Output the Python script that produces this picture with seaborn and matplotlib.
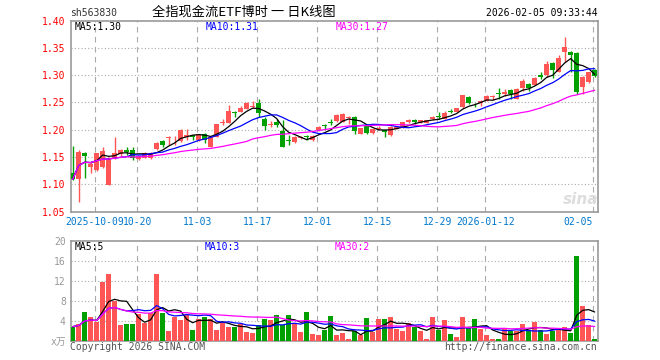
import numpy as np
import pandas as pd
import seaborn as sns
import matplotlib
matplotlib.use('Agg')
import matplotlib.pyplot as plt

# daily k-line data (2025-09-25 .. 2026-02-05)
opens = [1.120, 1.109, 1.158, 1.131, 1.127, 1.132, 1.099, 1.148, 1.155, 1.162,
         1.162, 1.146, 1.149, 1.149, 1.164, 1.179, 1.184, 1.186, 1.179, 1.187,
         1.190, 1.181, 1.193, 1.169, 1.187, 1.212, 1.213, 1.233, 1.233, 1.238,
         1.242, 1.249, 1.219, 1.209, 1.214, 1.198, 1.182, 1.177, 1.184, 1.188,
         1.182, 1.199, 1.209, 1.214, 1.216, 1.215, 1.222, 1.223, 1.193, 1.209,
         1.194, 1.201, 1.199, 1.190, 1.202, 1.204, 1.215, 1.217, 1.214, 1.213,
         1.220, 1.226, 1.220, 1.235, 1.233, 1.241, 1.259, 1.246, 1.248, 1.253,
         1.259, 1.267, 1.265, 1.273, 1.257, 1.277, 1.284, 1.282, 1.301, 1.300,
         1.323, 1.306, 1.343, 1.343, 1.341, 1.279, 1.287, 1.310]
closes = [1.109, 1.160, 1.152, 1.138, 1.157, 1.161, 1.148, 1.158, 1.162, 1.160,
          1.148, 1.151, 1.158, 1.158, 1.175, 1.172, 1.187, 1.187, 1.199, 1.190,
          1.187, 1.192, 1.182, 1.187, 1.210, 1.215, 1.234, 1.230, 1.240, 1.249,
          1.244, 1.231, 1.207, 1.211, 1.209, 1.169, 1.180, 1.187, 1.187, 1.186,
          1.188, 1.205, 1.207, 1.212, 1.227, 1.228, 1.224, 1.198, 1.203, 1.194,
          1.201, 1.203, 1.196, 1.205, 1.205, 1.214, 1.217, 1.215, 1.217, 1.217,
          1.223, 1.223, 1.230, 1.233, 1.239, 1.263, 1.249, 1.245, 1.253, 1.262,
          1.261, 1.265, 1.269, 1.265, 1.274, 1.289, 1.277, 1.295, 1.297, 1.321,
          1.309, 1.332, 1.352, 1.337, 1.269, 1.297, 1.305, 1.298]
highs = [1.170, 1.162, 1.159, 1.141, 1.158, 1.169, 1.150, 1.187, 1.164, 1.168,
         1.169, 1.152, 1.160, 1.160, 1.177, 1.182, 1.188, 1.188, 1.202, 1.201,
         1.191, 1.193, 1.194, 1.188, 1.211, 1.219, 1.245, 1.234, 1.243, 1.250,
         1.252, 1.257, 1.224, 1.216, 1.219, 1.218, 1.191, 1.188, 1.188, 1.191,
         1.190, 1.206, 1.210, 1.219, 1.228, 1.230, 1.225, 1.225, 1.204, 1.210,
         1.202, 1.207, 1.200, 1.206, 1.206, 1.215, 1.219, 1.219, 1.218, 1.218,
         1.226, 1.232, 1.234, 1.238, 1.240, 1.264, 1.262, 1.249, 1.254, 1.263,
         1.263, 1.277, 1.274, 1.275, 1.276, 1.292, 1.286, 1.297, 1.305, 1.326,
         1.324, 1.337, 1.369, 1.344, 1.342, 1.299, 1.306, 1.312]
lows = [1.107, 1.068, 1.111, 1.120, 1.125, 1.130, 1.098, 1.146, 1.152, 1.154,
        1.144, 1.144, 1.148, 1.147, 1.163, 1.169, 1.172, 1.172, 1.178, 1.181,
        1.182, 1.180, 1.175, 1.168, 1.186, 1.209, 1.212, 1.223, 1.232, 1.237,
        1.239, 1.223, 1.199, 1.205, 1.205, 1.168, 1.172, 1.176, 1.183, 1.182,
        1.180, 1.198, 1.201, 1.208, 1.215, 1.214, 1.211, 1.192, 1.192, 1.192,
        1.193, 1.200, 1.186, 1.189, 1.201, 1.203, 1.212, 1.211, 1.213, 1.212,
        1.218, 1.219, 1.219, 1.231, 1.232, 1.240, 1.247, 1.241, 1.244, 1.252,
        1.254, 1.257, 1.262, 1.256, 1.256, 1.271, 1.270, 1.281, 1.292, 1.297,
        1.294, 1.305, 1.324, 1.305, 1.265, 1.265, 1.285, 1.296]
volumes = [2.8, 3.3, 5.7, 4.7, 3.7, 11.8, 13.3, 7.9, 3.1, 3.3,
           3.3, 5.3, 3.5, 5.5, 13.3, 5.5, 1.9, 4.8, 4.1, 5.1,
           2.1, 4.3, 4.7, 4.3, 2.1, 3.5, 2.7, 2.7, 3.3, 1.7,
           1.5, 3.1, 4.3, 4.1, 5.1, 3.1, 5.1, 3.5, 1.7, 5.7,
           1.3, 1.2, 2.1, 4.9, 1.1, 1.5, 0.4, 1.9, 1.1, 4.5,
           1.8, 4.3, 4.3, 4.7, 2.3, 1.9, 3.5, 2.7, 1.9, 0.4,
           4.7, 2.1, 4.1, 1.3, 0.7, 4.7, 2.6, 4.3, 2.3, 1.1,
           0.4, 0.3, 2.4, 1.9, 1.9, 3.3, 2.2, 3.7, 2.1, 1.4,
           1.9, 2.4, 2.7, 1.5, 16.9, 6.9, 3.1, 0.3]

tick_idx = [4, 11, 21, 31, 41, 51, 61, 69, 87]
tick_labels = ['2025-10-09', '10-20', '11-03', '11-17', '12-01', '12-15',
               '12-29', '2026-01-12', '02-05']
price_ticks = [1.05, 1.10, 1.15, 1.20, 1.25, 1.30, 1.35, 1.40]
vol_ticks = [0, 4, 8, 12, 16, 20]
vol_tick_labels = ['x万', '4', '8', '12', '16', '20']

code = 'sh563830'
title = '全指现金流ETF博时 一 日K线图'
stamp = '2026-02-05 09:33:44'
ma_labels = ['MA5:1.30', 'MA10:1.31', 'MA30:1.27']
vol_ma_labels = ['MA5:5', 'MA10:3', 'MA30:2']

RED = '#ff5555'
GREEN = '#00a000'
MA_COLORS = ['black', '#0000ff', '#ff00ff']
GRID = '#aaaaaa'
MONO = ['DejaVu Sans Mono', 'Noto Sans CJK SC']

df = pd.DataFrame({'idx': np.arange(len(closes)), 'open': opens, 'close': closes,
                   'high': highs, 'low': lows, 'vol': volumes})
df['dir'] = np.where(df['close'] >= df['open'], 'up', 'down')
df['col'] = np.where(df['dir'] == 'up', RED, GREEN)
for n in (5, 10, 30):
    df[f'ma{n}'] = df['close'].rolling(n, min_periods=1).mean()
    df[f'vma{n}'] = df['vol'].rolling(n, min_periods=1).mean()

sns.set_theme(style='white')
plt.rcParams['font.family'] = MONO

W, H = 660, 360
fig = plt.figure(figsize=(6.6, 3.6), dpi=100)
left, right = 70.7, 598
ax = fig.add_axes([left / W, 1 - 211.6 / H, (right - left) / W, (211.6 - 20.5) / H])
axv = fig.add_axes([left / W, 1 - 340.7 / H, (right - left) / W, 100 / H])

# candles
ax.vlines(df['idx'], df['low'], df['high'], colors=df['col'], lw=1, zorder=3)
body = np.maximum((df['close'] - df['open']).abs(), 0.0009)
ax.bar(df['idx'], body, bottom=df[['open', 'close']].min(axis=1), width=0.85,
       color=df['col'], lw=0, zorder=3)

for n, c in zip((5, 10, 30), MA_COLORS):
    sns.lineplot(x=df['idx'], y=df[f'ma{n}'], color=c, lw=0.9, ax=ax, zorder=4)

# volume
axv.bar(df['idx'], df['vol'], width=0.85, color=df['col'], lw=0, zorder=3)
for n, c in zip((5, 10, 30), MA_COLORS):
    sns.lineplot(x=df['idx'], y=df[f'vma{n}'], color=c, lw=0.9, ax=axv, zorder=4)

grid_x = [i - 0.25 for i in tick_idx]
for a in (ax, axv):
    a.set_xlim(-0.33, 87.55)
    a.set_xlabel('')
    a.set_ylabel('')
    for s in a.spines.values():
        s.set_color('#999999')
        s.set_linewidth(1.2)
    for gx in grid_x:
        a.axvline(gx, color=GRID, lw=0.8, ls=(0, (5, 4)), zorder=1)
    a.tick_params(length=0)

ax.set_ylim(1.05, 1.40)
ax.set_yticks(price_ticks)
ax.set_yticklabels([f'{v:.2f}' for v in price_ticks], color='red', fontsize=7)
for v in price_ticks[1:-1]:
    ax.axhline(v, color=GRID, lw=0.8, ls=(0, (1, 2)), zorder=1)
ax.set_xticks(grid_x)
ax.set_xticklabels(tick_labels, color='#0077cc', fontsize=7)
ax.xaxis.get_ticklabels()[-1].set_horizontalalignment('right')
ax.tick_params(axis='y', pad=3.5)
ax.tick_params(axis='x', pad=4)

axv.set_ylim(0, 20)
axv.set_yticks(vol_ticks)
axv.set_yticklabels(vol_tick_labels, color='#999999', fontsize=7)
axv.tick_params(axis='y', pad=3.5)
axv.set_xticks([])
for v in vol_ticks[1:-1]:
    axv.axhline(v, color=GRID, lw=0.8, ls=(0, (1, 2)), zorder=1)


def ftext(x, y, s, **kw):
    fig.text(x / W, 1 - y / H, s, va='center', **kw)


ftext(70, 12.5, code, fontsize=7, color='#333333')
ftext(244, 12.5, title, ha='center', fontsize=9.5, color='black',
      family=['Noto Sans CJK SC', 'DejaVu Sans'])
ftext(598, 12.5, stamp, ha='right', fontsize=7, color='black')
for x, s, c in zip((75, 205.5, 335.5), ma_labels, MA_COLORS):
    ftext(x, 26.5, s, fontsize=7, color=c)
for x, s, c in zip((74.7, 204.7, 334.7), vol_ma_labels, MA_COLORS):
    ftext(x, 246.7, s, fontsize=7, color=c)
ftext(70, 347, 'Copyright 2026 SINA.COM', fontsize=7, color='#555555')
ftext(597, 347, 'http://finance.sina.com.cn', ha='right', fontsize=7, color='#555555')
ftext(581, 199, 'sina', ha='center', fontsize=11, color='#dddddd',
      fontweight='bold', fontstyle='italic', family='DejaVu Sans', zorder=0)

fig.savefig('out.png', dpi=100, facecolor='white')
